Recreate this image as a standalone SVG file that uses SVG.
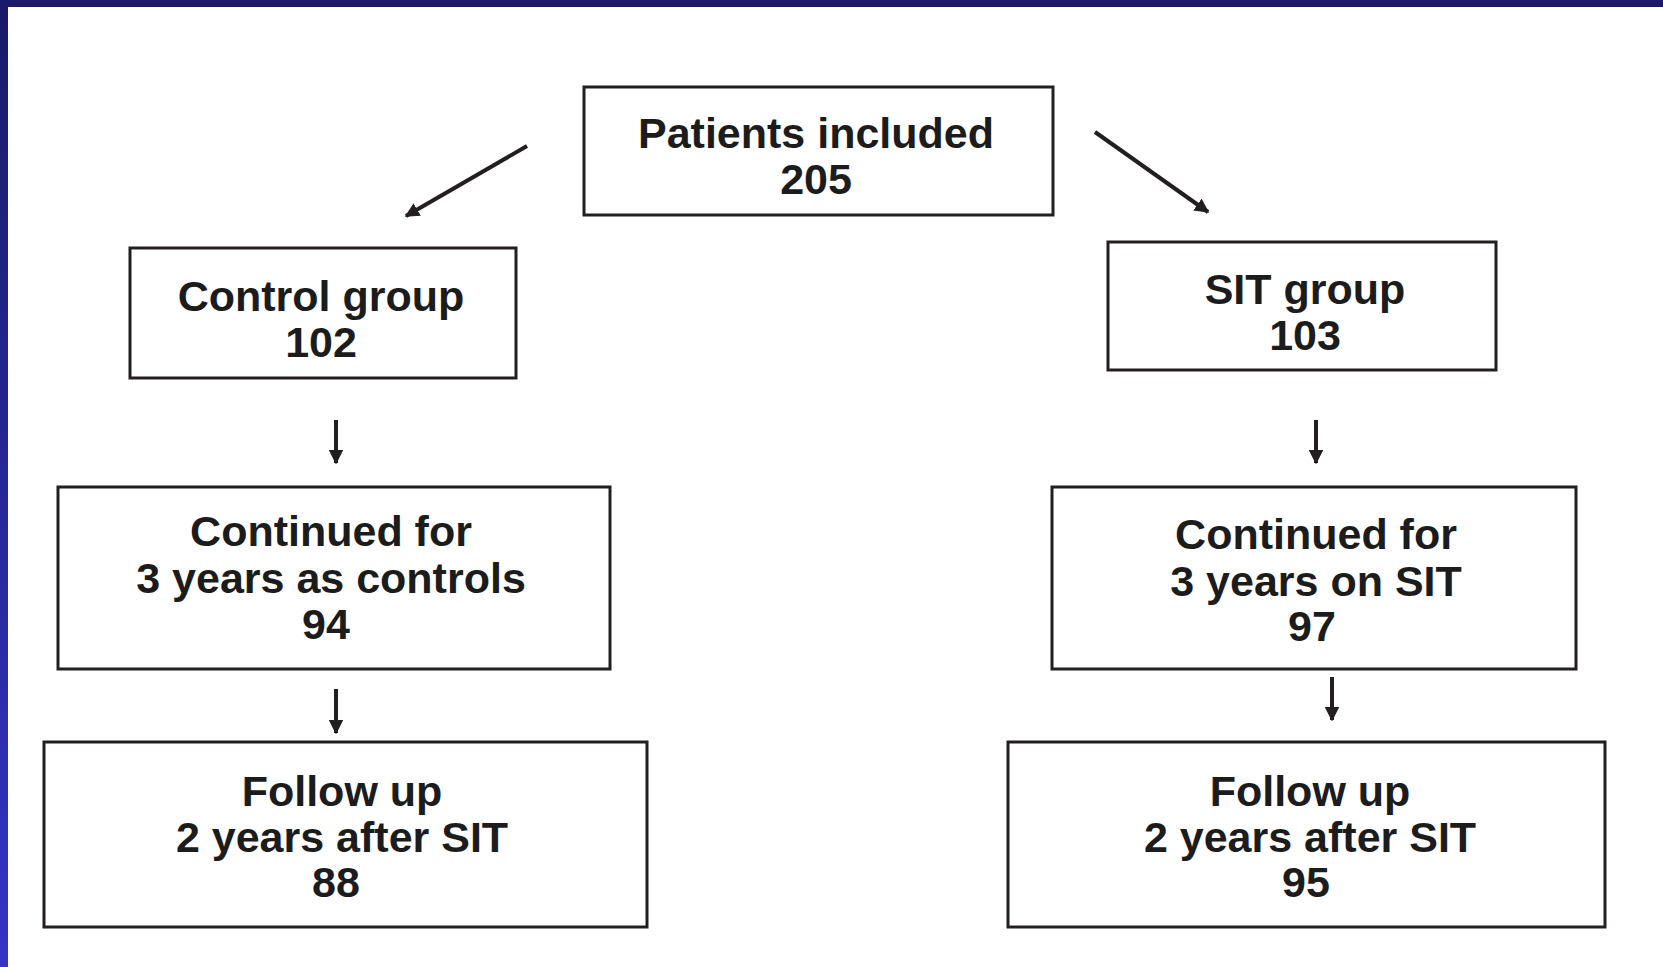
<svg xmlns="http://www.w3.org/2000/svg" width="1663" height="967" viewBox="0 0 1663 967">
<style>
.box{fill:#fff;stroke:#231f20;stroke-width:3}
.t{font-family:"Liberation Sans",Arial,sans-serif;font-weight:bold;font-size:43px;fill:#1c1c1c;text-anchor:middle}
.c{stroke:#231f20;stroke-width:4;fill:none}
</style>
<defs>
<linearGradient id="lb" x1="0" y1="0" x2="0" y2="1">
<stop offset="0" stop-color="#1a1a68"/>
<stop offset="1" stop-color="#3434c6"/>
</linearGradient>
<marker id="ah" viewBox="0 0 10 10" refX="9" refY="5" markerWidth="3.6" markerHeight="3.6" orient="auto" markerUnits="strokeWidth">
<path d="M0,0 L10,5 L0,10 z" fill="#231f20"/>
</marker>
</defs>
<rect x="0" y="0" width="1663" height="967" fill="#fff"/>
<rect x="0" y="0" width="1663" height="7" fill="#1a1a68"/>
<rect x="0" y="0" width="8" height="967" fill="url(#lb)"/>

<g id="connectors">
<line class="c" x1="527" y1="146" x2="406" y2="216" marker-end="url(#ah)"/>
<line class="c" x1="1095" y1="132" x2="1208" y2="212" marker-end="url(#ah)"/>
<line class="c" x1="336" y1="420" x2="336" y2="463" marker-end="url(#ah)"/>
<line class="c" x1="1316" y1="420" x2="1316" y2="463" marker-end="url(#ah)"/>
<line class="c" x1="336" y1="689" x2="336" y2="733" marker-end="url(#ah)"/>
<line class="c" x1="1332" y1="677" x2="1332" y2="720" marker-end="url(#ah)"/>
</g>

<g id="patients">
<rect class="box" x="584" y="87" width="469" height="128"/>
<text class="t" x="816" y="148">Patients included</text>
<text class="t" x="816" y="194">205</text>
</g>

<g id="control">
<rect class="box" x="130" y="248" width="386" height="130"/>
<text class="t" x="321" y="311">Control group</text>
<text class="t" x="321" y="357">102</text>
</g>

<g id="sit">
<rect class="box" x="1108" y="242" width="388" height="128"/>
<text class="t" x="1305" y="304">SIT group</text>
<text class="t" x="1305" y="350">103</text>
</g>

<g id="continued-control">
<rect class="box" x="58" y="487" width="552" height="182"/>
<text class="t" x="331" y="546">Continued for</text>
<text class="t" x="331" y="593">3 years as controls</text>
<text class="t" x="326" y="639">94</text>
</g>

<g id="continued-sit">
<rect class="box" x="1052" y="487" width="524" height="182"/>
<text class="t" x="1316" y="549">Continued for</text>
<text class="t" x="1316" y="596">3 years on SIT</text>
<text class="t" x="1312" y="641">97</text>
</g>

<g id="followup-control">
<rect class="box" x="44" y="742" width="603" height="185"/>
<text class="t" x="342" y="806">Follow up</text>
<text class="t" x="342" y="852">2 years after SIT</text>
<text class="t" x="336" y="897">88</text>
</g>

<g id="followup-sit">
<rect class="box" x="1008" y="742" width="597" height="185"/>
<text class="t" x="1310" y="806">Follow up</text>
<text class="t" x="1310" y="852">2 years after SIT</text>
<text class="t" x="1306" y="897">95</text>
</g>
</svg>
